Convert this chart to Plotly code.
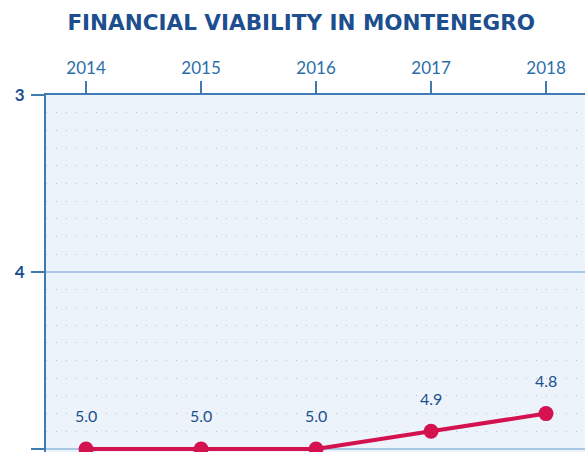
import plotly.graph_objects as go

# Financial viability scores by year (lower score = better, axis reversed)
years = [2014, 2015, 2016, 2017, 2018]
scores = [5.0, 5.0, 5.0, 4.9, 4.8]
score_labels = [f"{v:.1f}" for v in scores]
y_ticks = [3, 4, 5]

navy = "#1d4f8f"
steel = "#3f7bb0"
crimson = "#d3124f"

fig = go.Figure()
fig.add_trace(go.Scatter(
    x=years, y=scores,
    mode="lines+markers",
    line=dict(color=crimson, width=4),
    marker=dict(color=crimson, size=15),
    cliponaxis=False,
    hoverinfo="skip",
))

for yr, v, lab in zip(years, scores, score_labels):
    fig.add_annotation(
        x=yr, y=v, text=lab, showarrow=False, yshift=33,
        font=dict(family="Lato", size=16, color=navy),
    )

fig.update_layout(
    width=585, height=452,
    margin=dict(l=46, r=0, t=95, b=0),
    paper_bgcolor="white",
    plot_bgcolor="#edf3fb",
    showlegend=False,
    title=dict(
        text="<b>FINANCIAL VIABILITY IN MONTENEGRO</b>",
        font=dict(family="DejaVu Sans", size=21.5, color=navy),
        xref="container", x=0.515, xanchor="center",
        yref="container", y=0.951, yanchor="middle",
    ),
)

fig.update_xaxes(
    side="top",
    range=[2013.652, 2018.339],
    tickvals=years,
    ticktext=[str(y) for y in years],
    ticks="outside", ticklen=12, tickwidth=2, tickcolor=steel,
    tickfont=dict(family="Lato", size=17, color="#2c6ea8"),
    showline=True, linecolor=steel, linewidth=2,
    showgrid=False, zeroline=False,
)

fig.update_yaxes(
    range=[5.017, 3],
    tickvals=y_ticks,
    ticktext=[f"<b>{t}</b>" for t in y_ticks],
    ticks="outside", ticklen=13, tickwidth=2, tickcolor=steel,
    tickfont=dict(family="Lato", size=17, color=navy),
    ticklabelstandoff=3,
    showline=True, linecolor=steel, linewidth=2,
    showgrid=True, gridcolor="#a8c8e6", gridwidth=2,
    zeroline=False,
    minor=dict(dtick=0.1, showgrid=True, gridcolor="#b3c2d4",
               gridwidth=1, griddash="1px,9px"),
)

fig.write_html("out.html")
